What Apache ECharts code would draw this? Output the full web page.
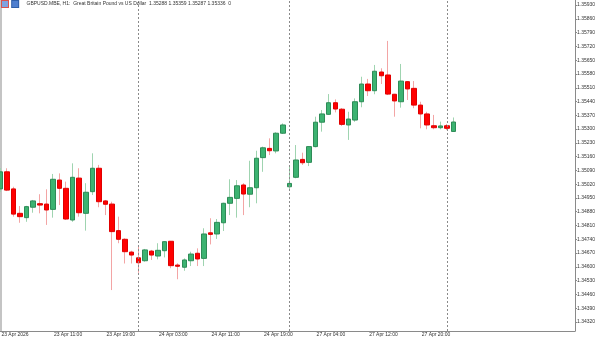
<!DOCTYPE html>
<html>
<head>
<meta charset="utf-8">
<script src="https://cdn.jsdelivr.net/npm/echarts@6/dist/echarts.min.js"></script>
<style>
  html, body { margin: 0; padding: 0; background: #fff; }
  #main { width: 600px; height: 339px; }
</style>
</head>
<body>
<div id="main"></div>
<script>
// trading days shown: [day, first hour, last hour]
var days = [['23 Apr', 3, 23], ['24 Apr', 0, 22], ['27 Apr', 0, 23], ['28 Apr', 0, 1]];
var firstLabel = '23 Apr 2026';

// GBPUSD H1 bars
var opens = [1.34996, 1.35083, 1.34996, 1.34872, 1.34850, 1.34903, 1.34921, 1.34919, 1.34892, 1.35041,
  1.34999, 1.34838, 1.35051, 1.34872, 1.34982, 1.35101, 1.34935, 1.34919, 1.34784, 1.34740,
  1.34675, 1.34646, 1.34631, 1.34680, 1.34655, 1.34682, 1.34730, 1.34609, 1.34598, 1.34631,
  1.34669, 1.34643, 1.34773, 1.34767, 1.34824, 1.34923, 1.34948, 1.35016, 1.34969, 1.35002,
  1.35155, 1.35202, 1.35189, 1.35279, 1.35007, 1.35055, 1.35146, 1.35131, 1.35211, 1.35335,
  1.35375, 1.35434, 1.35401, 1.35321, 1.35346, 1.35439, 1.35529, 1.35495, 1.35590, 1.35575,
  1.35477, 1.35439, 1.35541, 1.35507, 1.35422, 1.35377, 1.35317, 1.35307, 1.35317, 1.35288];
var closes = [1.35083, 1.34990, 1.34868, 1.34855, 1.34906, 1.34935, 1.34914, 1.34889, 1.35045, 1.34999,
  1.34843, 1.35055, 1.34875, 1.34979, 1.35101, 1.34931, 1.34918, 1.34779, 1.34740, 1.34677,
  1.34660, 1.34621, 1.34686, 1.34660, 1.34684, 1.34728, 1.34606, 1.34603, 1.34635, 1.34665,
  1.34640, 1.34767, 1.34765, 1.34826, 1.34923, 1.34953, 1.35012, 1.34970, 1.35002, 1.35152,
  1.35205, 1.35190, 1.35279, 1.35321, 1.35024, 1.35143, 1.35129, 1.35211, 1.35335, 1.35377,
  1.35434, 1.35402, 1.35324, 1.35351, 1.35439, 1.35529, 1.35495, 1.35594, 1.35571, 1.35478,
  1.35443, 1.35544, 1.35504, 1.35422, 1.35377, 1.35321, 1.35307, 1.35316, 1.35304, 1.35336];
var lows = [1.34980, 1.34985, 1.34855, 1.34824, 1.34829, 1.34875, 1.34872, 1.34813, 1.34850, 1.34914,
  1.34838, 1.34829, 1.34855, 1.34784, 1.34965, 1.34903, 1.34863, 1.34482, 1.34720, 1.34617,
  1.34617, 1.34570, 1.34626, 1.34635, 1.34638, 1.34648, 1.34593, 1.34537, 1.34580, 1.34604,
  1.34604, 1.34604, 1.34714, 1.34742, 1.34782, 1.34863, 1.34850, 1.34863, 1.34903, 1.34923,
  1.35083, 1.35168, 1.35177, 1.35275, 1.34990, 1.35050, 1.35118, 1.35112, 1.35207, 1.35287,
  1.35372, 1.35385, 1.35316, 1.35245, 1.35337, 1.35411, 1.35468, 1.35477, 1.35529, 1.35473,
  1.35363, 1.35409, 1.35448, 1.35406, 1.35304, 1.35299, 1.35299, 1.35299, 1.35295, 1.35287];
var highs = [1.35102, 1.35101, 1.35007, 1.34909, 1.34910, 1.34940, 1.34969, 1.34994, 1.35072, 1.35075,
  1.35033, 1.35126, 1.35101, 1.35025, 1.35177, 1.35118, 1.34940, 1.34931, 1.34855, 1.34745,
  1.34682, 1.34711, 1.34691, 1.34686, 1.34720, 1.34731, 1.34731, 1.34618, 1.34643, 1.34677,
  1.34694, 1.34796, 1.34847, 1.34843, 1.34926, 1.35045, 1.35041, 1.35025, 1.35139, 1.35190,
  1.35211, 1.35253, 1.35284, 1.35329, 1.35109, 1.35219, 1.35180, 1.35214, 1.35363, 1.35397,
  1.35478, 1.35451, 1.35407, 1.35388, 1.35456, 1.35566, 1.35555, 1.35626, 1.35609, 1.35748,
  1.35479, 1.35631, 1.35544, 1.35544, 1.35439, 1.35388, 1.35372, 1.35338, 1.35326, 1.35359];

var yTicks = [1.34320, 1.34390, 1.34460, 1.34530, 1.34600, 1.34670, 1.34740, 1.34810, 1.34880, 1.34950,
  1.35020, 1.35090, 1.35160, 1.35230, 1.35300, 1.35370, 1.35440, 1.35510, 1.35580, 1.35650,
  1.35720, 1.35790, 1.35860, 1.35930];

var emptySlots = 18;  // chart shift on the right

var times = [];
var dayStarts = [];
days.forEach(function (d) {
  for (var h = d[1]; h <= d[2]; h++) {
    var t = d[0] + ' ' + (h < 10 ? '0' : '') + h + ':00';
    if (h === 0) dayStarts.push(t);
    times.push(t);
  }
});
var cats = times.slice();
for (var k = 0; k < emptySlots; k++) cats.push('');

var wickData = [];
var bodyData = [];
for (var i = 0; i < times.length; i++) {
  wickData.push([opens[i], closes[i], lows[i], highs[i]]);
  bodyData.push([opens[i], closes[i], Math.min(opens[i], closes[i]), Math.max(opens[i], closes[i])]);
}

var font = 'Liberation Sans';
var chart = echarts.init(document.getElementById('main'));

var option = {
  animation: false,
  backgroundColor: '#ffffff',
  title: {
    left: 2,
    top: 0,
    padding: [1, 0, 0, 0],
    text: '{i1|}   {i2|}      GBPUSD.MBE, H1:  Great Britain Pound vs US Dollar  1.35288 1.35359 1.35287 1.35336  0',
    textStyle: {
      fontFamily: font,
      fontSize: 5,
      fontWeight: 'normal',
      color: '#333',
      rich: {
        i1: { width: 6, height: 6, backgroundColor: '#7fa3e0', borderColor: '#d9534f', borderWidth: 1 },
        i2: { width: 6, height: 6, backgroundColor: '#4f7fcf', borderColor: '#2f5fa8', borderWidth: 1 }
      }
    }
  },
  graphic: [{
    type: 'rect',
    left: 0,
    top: 0,
    z: -10,
    shape: { width: 2, height: 331 },
    style: { fill: '#c4c4c4' },
    silent: true
  }],
  grid: { left: -2.9, right: 25, top: 0, bottom: 8, outerBoundsMode: 'none', containLabel: false },
  xAxis: {
    type: 'category',
    data: cats,
    boundaryGap: true,
    axisLine: { lineStyle: { color: '#8a8a8a', width: 1 } },
    axisTick: {
      alignWithLabel: true,
      length: 2,
      interval: function (idx) { return idx % 8 === 0 && idx < times.length; },
      lineStyle: { color: '#8a8a8a' }
    },
    axisLabel: {
      interval: function (idx) { return idx % 8 === 0 && idx < times.length; },
      formatter: function (v, idx) { return idx === 0 ? firstLabel : v; },
      align: 'left',
      margin: 1,
      padding: [0, 0, 0, 1],
      fontFamily: font,
      fontSize: 5,
      color: '#333'
    },
    splitLine: { show: false }
  },
  yAxis: {
    type: 'value',
    position: 'right',
    scale: true,
    min: 1.34274,
    max: 1.35956,
    axisLine: { show: true, lineStyle: { color: '#8a8a8a', width: 1 } },
    axisTick: { show: true, length: 2, customValues: yTicks, lineStyle: { color: '#8a8a8a' } },
    axisLabel: {
      customValues: yTicks,
      margin: 2,
      fontFamily: font,
      fontSize: 5,
      color: '#333',
      formatter: function (v) { return v.toFixed(5); }
    },
    splitLine: { show: false }
  },
  series: [
    {
      name: 'wicks',
      type: 'candlestick',
      data: wickData,
      barWidth: 1,
      z: 2,
      itemStyle: {
        color: '#9fd4b0',
        color0: '#f3a5a5',
        borderColor: '#9fd4b0',
        borderColor0: '#f3a5a5',
        borderWidth: 1
      },
      markLine: {
        silent: true,
        symbol: 'none',
        label: { show: false },
        lineStyle: { color: '#8a8a8a', type: [2, 2], width: 1 },
        data: dayStarts.map(function (t) { return { xAxis: t }; })
      }
    },
    {
      name: 'bodies',
      type: 'candlestick',
      data: bodyData,
      barWidth: 5,
      z: 3,
      itemStyle: {
        color: '#3cb371',
        color0: '#ff0000',
        borderColor: '#2e8b57',
        borderColor0: '#e00000',
        borderWidth: 1
      }
    }
  ]
};

chart.setOption(option);
</script>
</body>
</html>
